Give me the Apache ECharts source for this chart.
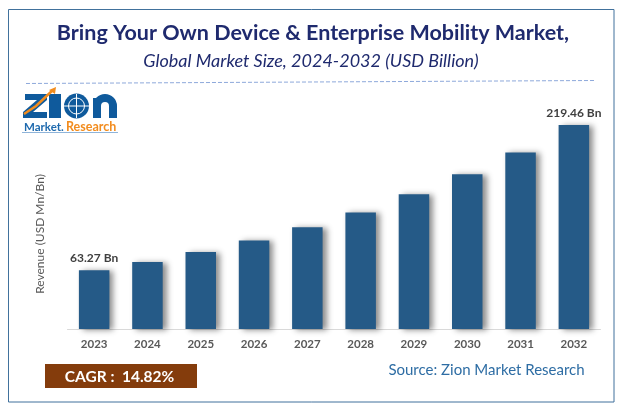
<!DOCTYPE html>
<html>
<head>
<meta charset="utf-8">
<style>html,body{margin:0;padding:0;background:#fff}#main{width:622px;height:412px}</style>
<script src="https://cdn.jsdelivr.net/npm/echarts@6/dist/echarts.min.js"></script>
</head>
<body>
<div id="main"></div>
<script>
var years = ['2023','2024','2025','2026','2027','2028','2029','2030','2031','2032'];
var revenue = [63.27,72,83,95.3,109.5,125.5,145,166.5,190,219.46];
var labelled = ['2023','2032'];

var titleText = 'Bring Your Own Device & Enterprise Mobility Market,';
var subtitleText = 'Global Market Size, 2024-2032 (USD Billion)';
var yName = 'Revenue (USD Mn/Bn)';
var cagrText = 'CAGR :  14.82%';
var sourceText = 'Source: Zion Market Research';

var font = 'Lato';
var blue = '#255A87';
var logoBlue = '#0F5A9C';
var logoOrange = '#F28C1E';

var option = {
    animation: false,
    backgroundColor: '#fff',
    textStyle: {fontFamily: font},
    grid: {left: 67.5, right: 21.5, top: 106, bottom: 83},
    xAxis: {
        type: 'category',
        data: years,
        axisTick: {show: false},
        axisLine: {lineStyle: {color: '#d9d9d9', width: 1}},
        axisLabel: {color: '#595959', fontFamily: font, fontWeight: 'bold', fontSize: 11.5, margin: 9}
    },
    yAxis: {type: 'value', min: 0, max: 240, show: false},
    series: [{
        type: 'bar',
        barWidth: 30.5,
        data: revenue.map(function (v, i) {
            return {
                value: v,
                label: {show: labelled.indexOf(years[i]) >= 0}
            };
        }),
        itemStyle: {
            color: blue,
            shadowColor: 'rgba(0,0,0,0.45)',
            shadowBlur: 6,
            shadowOffsetX: 4,
            shadowOffsetY: 1
        },
        label: {
            position: 'top',
            distance: 6,
            formatter: '{c} Bn',
            color: '#404040',
            fontFamily: font,
            fontWeight: 'bold',
            fontSize: 12
        }
    }],
    graphic: [
        {type: 'rect', z: 0, shape: {x: 8.5, y: 9.5, width: 605.5, height: 392.5},
            style: {fill: 'none', stroke: '#41719C', lineWidth: 1}},
        {type: 'text', x: 313, y: 33, style: {text: titleText, fill: '#1F2A6E', font: 'bold 21.5px ' + font, textAlign: 'center', textVerticalAlign: 'middle'}},
        {type: 'text', x: 311, y: 61, style: {text: subtitleText, fill: '#1F2A6E', font: 'italic 18px ' + font, textAlign: 'center', textVerticalAlign: 'middle'}},
        {type: 'line', shape: {x1: 26, y1: 83.5, x2: 595, y2: 80.5},
            style: {stroke: '#8EA9DB', lineWidth: 1, lineDash: [4, 2]}},

        // logo
        {type: 'polygon', shape: {points: [[25, 94], [47, 94], [47, 100], [33, 112], [47, 112], [47, 118], [23, 118], [23, 112], [37, 100], [25, 100]]}, style: {fill: logoBlue}},
        {type: 'rect', shape: {x: 49, y: 94, width: 12, height: 24}, style: {fill: logoBlue}},
        {type: 'circle', shape: {cx: 76.5, cy: 106, r: 12.5}, style: {fill: logoBlue}},
        {type: 'circle', shape: {cx: 76.5, cy: 106, r: 8}, style: {fill: 'none', stroke: '#fff', lineWidth: 1}},
        {type: 'line', shape: {x1: 64, y1: 106, x2: 89, y2: 106}, style: {stroke: '#fff', lineWidth: 1}},
        {type: 'line', shape: {x1: 76.5, y1: 94, x2: 76.5, y2: 118}, style: {stroke: '#fff', lineWidth: 1}},
        {type: 'rect', shape: {x: 93, y: 98, width: 8, height: 20}, style: {fill: logoBlue}},
        {type: 'rect', shape: {x: 109, y: 106, width: 8, height: 12}, style: {fill: logoBlue}},
        {type: 'arc', shape: {cx: 105, cy: 106, r: 8, startAngle: Math.PI, endAngle: Math.PI * 2}, style: {fill: 'none', stroke: logoBlue, lineWidth: 8}},
        {type: 'polyline', shape: {points: [[24, 114], [36, 106], [53, 90]]}, style: {fill: 'none', stroke: logoOrange, lineWidth: 2.5}},
        {type: 'polygon', shape: {points: [[49, 90], [56, 87], [55, 94]]}, style: {fill: logoOrange}},
        {type: 'text', x: 24, y: 127, style: {text: 'Market.', fill: '#1F6AAE', font: 'bold 11.5px ' + font, textVerticalAlign: 'middle'}},
        {type: 'text', x: 66, y: 127, style: {text: 'Research', fill: logoOrange, font: 'bold 12.5px ' + font, textVerticalAlign: 'middle'}},
        {type: 'line', shape: {x1: 22, y1: 132.5, x2: 118, y2: 132.5}, style: {stroke: '#8FB4D9', lineWidth: 1}},

        {type: 'text', x: 40, y: 234, rotation: Math.PI / 2, style: {text: yName, fill: '#595959', font: '12px ' + font, textAlign: 'center', textVerticalAlign: 'middle'}},
        {type: 'rect', shape: {x: 45, y: 364, width: 152, height: 24}, style: {fill: '#843C0C'}},
        {type: 'text', x: 119.5, y: 376.5, style: {text: cagrText, fill: '#fff', font: 'bold 15.5px ' + font, textAlign: 'center', textVerticalAlign: 'middle'}},
        {type: 'text', x: 486.5, y: 370, style: {text: sourceText, fill: '#2E6DA4', font: '15px ' + font, textAlign: 'center', textVerticalAlign: 'middle'}}
    ]
};
var myChart = echarts.init(document.getElementById('main'));
myChart.setOption(option);
</script>
</body>
</html>
